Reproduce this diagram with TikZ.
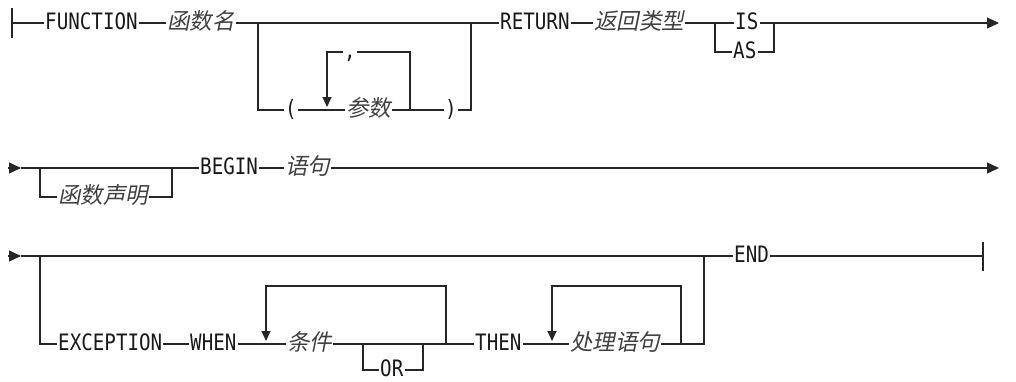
\documentclass[tikz,border=0pt]{standalone}
\usepackage{fontspec}
\newfontfamily\kwfont{DejaVu Sans Mono}[FakeStretch=0.85]
\newfontfamily\cjk{Noto Sans CJK SC}[FakeSlant=0.2]
\usetikzlibrary{arrows.meta}
\tikzset{
  kw/.style={anchor=west, inner xsep=1pt, inner ysep=0pt, text height=12.5pt, text depth=0pt,
    text=black!90, font=\kwfont\fontsize{22.6}{26}\selectfont},
  var/.style={kw, text=black!75, font=\cjk\fontsize{22.5}{26}\selectfont},
  rail/.style={line width=1.1pt, draw=black!85, line join=miter},
  loopdn/.style={rail, -{Triangle[length=10pt,width=9pt]}},
  goon/.style={rail, -{Triangle[length=12pt,width=11pt]}},
}
\begin{document}
\begin{tikzpicture}[x=1pt,y=-1pt]
\useasboundingbox (0,0) rectangle (1016,381);

%First line
\coordinate (S1) at (12,23);
\node[kw] (FUNC) at (44,23) {FUNCTION};
\node[var] (FNAME) at (166,23) {函数名};
\coordinate (B1) at (258,23);
\coordinate (J1) at (471,23);
\node[kw] (LP) at (284,110) {(};
\node[var] (PARAM) at (345,110) {参数};
\node[kw] (RP) at (444,110) {)};
\node[kw] (COMMA) at (343,52) {,};
\coordinate (R1) at (410,110);
\coordinate (D1) at (327,107);
\node[kw] (RET) at (499,23) {RETURN};
\node[var] (RTYPE) at (593,23) {返回类型};
\coordinate (B2) at (715,23);
\node[kw] (IS) at (734,23) {IS};
\node[kw] (AS) at (732,52) {AS};
\coordinate (J2) at (774,23);
\coordinate (E1) at (999,23);

\draw[rail] (S1) ++(0,-15) -- ++(0,30);
\draw[rail] (S1) -- (FUNC.west) (FUNC.east) -- (FNAME.west) (FNAME.east) -- (B1) -- (J1) -- (RET.west);
\draw[rail] (B1) |- (LP.west) (LP.east) -- (PARAM.west) (PARAM.east) -- (RP.west) (RP.east) -| (J1);
\draw[rail] (R1) |- (COMMA.east);
\draw[loopdn] (COMMA.west) -| (D1);
\draw[rail] (RET.east) -- (RTYPE.west) (RTYPE.east) -- (B2) -- (IS.west) (IS.east) -- (J2);
\draw[rail] (B2) |- (AS.west) (AS.east) -| (J2);
\draw[goon] (J2) -- (E1);

%Second line
\coordinate (A2) at (8,168);
\coordinate (A2t) at (21,168);
\coordinate (B3) at (40,168);
\node[var] (FDECL) at (57,197) {函数声明};
\coordinate (J3) at (172,168);
\node[kw] (BEGIN) at (199,168) {BEGIN};
\node[var] (STMT) at (284,168) {语句};
\coordinate (E2) at (999,168);

\draw[goon] (A2) -- (A2t);
\draw[rail] (A2t) -- (J3) -- (BEGIN.west) (BEGIN.east) -- (STMT.west);
\draw[rail] (B3) |- (FDECL.west) (FDECL.east) -| (J3);
\draw[goon] (STMT.east) -- (E2);

%Third line
\coordinate (A3) at (8,256);
\coordinate (A3t) at (21,256);
\coordinate (B4) at (40,256);
\node[kw] (EXC) at (57,344) {EXCEPTION};
\node[kw] (WHEN) at (189,344) {WHEN};
\node[var] (COND) at (286,344) {条件};
\coordinate (D3) at (266,341);
\coordinate (L3) at (266,286);
\coordinate (J5) at (446,344);
\coordinate (B5) at (363,344);
\node[kw] (OR) at (379,370) {OR};
\coordinate (J6) at (423,344);
\node[kw] (THEN) at (474,344) {THEN};
\node[var] (HANDLE) at (569,344) {处理语句};
\coordinate (D4) at (552,341);
\coordinate (L4) at (552,286);
\coordinate (J7) at (681,344);
\coordinate (J4) at (704,256);
\node[kw] (END) at (733,256) {END};
\coordinate (T3) at (983,256);

\draw[goon] (A3) -- (A3t);
\draw[rail] (A3t) -- (J4) -- (END.west) (END.east) -- (T3);
\draw[rail] (T3) ++(0,-14) -- ++(0,29);
\draw[rail] (B4) |- (EXC.west) (EXC.east) -- (WHEN.west) (WHEN.east) -- (COND.west) (COND.east) -- (THEN.west);
\draw[loopdn] (J5) |- (L3) -- (D3);
\draw[rail] (B5) |- (OR.west) (OR.east) -| (J6);
\draw[rail] (THEN.east) -- (HANDLE.west) (HANDLE.east) -| (J4);
\draw[loopdn] (J7) |- (L4) -- (D4);

\end{tikzpicture}
\end{document}
